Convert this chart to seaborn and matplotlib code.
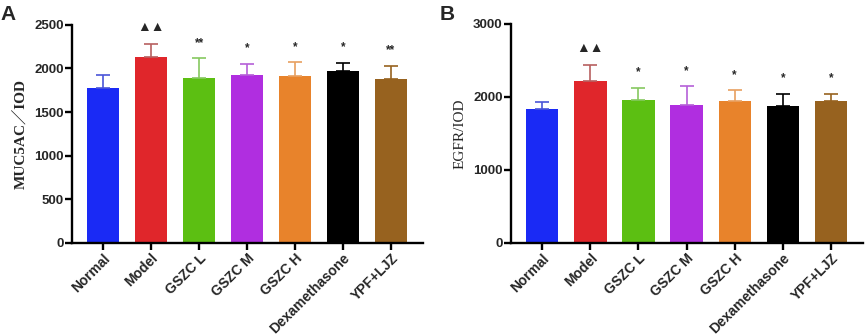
import numpy as np
import pandas as pd
import matplotlib
matplotlib.use('Agg')
import matplotlib.pyplot as plt
import seaborn as sns

# ---------------------------------------------------
# datos
# ---------------------------------------------------
groups = ['Normal', 'Model', 'GSZC L', 'GSZC M', 'GSZC H', 'Dexamethasone', 'YPF+LJZ']

muc5ac_mean = [1775, 2137, 1889, 1927, 1916, 1969, 1885]
muc5ac_sd = [152, 149, 229, 123, 153, 96, 149]
muc5ac_sig = ['', '▲▲', '**', '*', '*', '*', '**']

egfr_mean = [1836, 2219, 1954, 1886, 1945, 1872, 1945]
egfr_sd = [96, 219, 169, 260, 146, 174, 101]
egfr_sig = ['', '▲▲', '*', '*', '*', '*', '*']

colors = ['#1a2af5', '#e0262b', '#5cbf12', '#b02ee0', '#e8832b', '#000000', '#97621f']
err_colors = ['#4a55d8', '#b86060', '#86c860', '#b560d8', '#e8a060', '#000000', '#97621f']


def draw_panel(ax, means, sds, sigs, ymax, step, ylabel, ylabel_weight, letter):
    df = pd.DataFrame({'group': groups, 'value': means})
    sns.barplot(data=df, x='group', y='value', hue='group', palette=colors,
                order=groups, width=0.67, errorbar=None, legend=False,
                edgecolor='none', saturation=1, ax=ax)

    # barras de error solo hacia arriba
    for i, (m, s) in enumerate(zip(means, sds)):
        ax.errorbar(i, m, yerr=[[0], [s]], fmt='none', ecolor=err_colors[i],
                    elinewidth=1.2, capsize=5, capthick=1.2)
        if sigs[i]:
            fs = 10 if '▲' in sigs[i] else 8.5
            ax.annotate(sigs[i], (i, m + s), xytext=(0, 9), textcoords='offset points',
                        ha='center', va='baseline', fontsize=fs, fontweight='bold',
                        family=['Liberation Sans', 'DejaVu Sans'])

    ax.set_xlim(-0.65, 6.67)
    ax.set_ylim(0, ymax)
    ax.set_yticks(np.arange(0, ymax + 1, step))
    ax.set_xlabel('')
    ax.set_ylabel(ylabel, fontsize=11, fontweight=ylabel_weight,
                  family=['Liberation Serif', 'Noto Sans CJK SC'], labelpad=5)

    for side in ['top', 'right']:
        ax.spines[side].set_visible(False)
    for side in ['left', 'bottom']:
        ax.spines[side].set_linewidth(1.7)
        ax.spines[side].set_color('black')
    ax.tick_params(axis='both', width=1.7, length=5, color='black', pad=1)
    ax.set_xticks(range(len(groups)))
    ax.set_xticklabels(groups, rotation=45, ha='right', rotation_mode='anchor',
                       fontsize=10, fontweight='bold', family='Liberation Sans')
    for lab in ax.get_yticklabels():
        lab.set_fontsize(9.5)
        lab.set_fontweight('bold')
        lab.set_family('Liberation Sans')
    ax.grid(False)

    ax.figure.text(ax.get_position().x0 - 0.083, 0.94, letter, fontsize=15,
                   fontweight='bold', family='Liberation Sans')


def main():
    sns.set_theme(style='ticks')
    fig = plt.figure(figsize=(8.65, 3.36), dpi=100)
    ax_a = fig.add_axes([0.0832, 0.277, 0.406, 0.649])
    ax_b = fig.add_axes([0.5908, 0.277, 0.407, 0.652])

    draw_panel(ax_a, muc5ac_mean, muc5ac_sd, muc5ac_sig, 2500, 500,
               'MUC5AC／IOD', 'bold', 'A')
    draw_panel(ax_b, egfr_mean, egfr_sd, egfr_sig, 3000, 1000,
               'EGFR/IOD', 'normal', 'B')

    fig.savefig('out.png', dpi=100)


if __name__ == '__main__':
    main()
